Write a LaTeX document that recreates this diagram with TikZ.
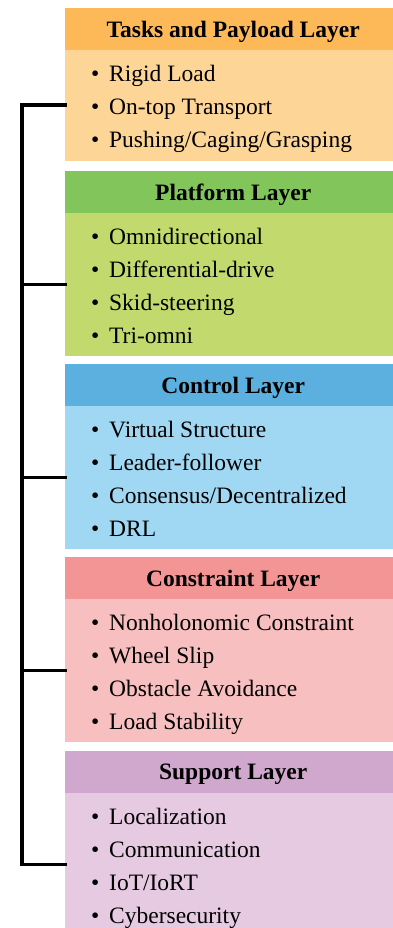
\documentclass[tikz,border=0pt]{standalone}
\usepackage{fontspec}
\setmainfont{Liberation Serif}
\definecolor{hA}{RGB}{253,185,88}
\definecolor{bA}{RGB}{253,213,151}
\definecolor{hB}{RGB}{130,197,91}
\definecolor{bB}{RGB}{194,217,110}
\definecolor{hC}{RGB}{91,176,224}
\definecolor{bC}{RGB}{160,216,243}
\definecolor{hD}{RGB}{244,149,149}
\definecolor{bD}{RGB}{248,191,192}
\definecolor{hE}{RGB}{208,168,206}
\definecolor{bE}{RGB}{230,202,226}
\tikzset{
  hdr/.style={rectangle, anchor=north west, inner sep=0pt, minimum width=336pt, minimum height=41.5pt, fill=#1},
  ttl/.style={inner sep=0pt, yshift=-2.5pt, font=\fontsize{23.5}{26}\selectfont\bfseries},
  bodybox/.style={rectangle, anchor=north west, inner sep=0pt, minimum width=336pt, fill=#1},
  itm/.style={anchor=base west, inner sep=0pt, font=\fontsize{23.5}{26}\selectfont},
  bracket/.style={line width=3.4pt, line join=miter, line cap=rect}
}
\newcommand{\itembul}{\makebox[18pt][l]{\textbullet}}
\begin{document}
\begin{tikzpicture}[x=1pt,y=-1pt]
\useasboundingbox (0,0) rectangle (393,928);
\clip (0,0) rectangle (393,928);
\coordinate (sp) at (22,0);
% boxes
\node[hdr=hA] (h1) at (65,8) {};
\node[bodybox=bA, minimum height=111pt] (b1) at (65,49.5) {};
\node[hdr=hB] (h2) at (65,171) {};
\node[bodybox=bB, minimum height=143pt] (b2) at (65,212.5) {};
\node[hdr=hC] (h3) at (65,364) {};
\node[bodybox=bC, minimum height=143pt] (b3) at (65,405.5) {};
\node[hdr=hD] (h4) at (65,557) {};
\node[bodybox=bD, minimum height=143pt] (b4) at (65,598.5) {};
\node[hdr=hE] (h5) at (65,751) {};
\node[bodybox=bE, minimum height=143pt] (b5) at (65,792.5) {};
% titles
\node[ttl] (t1) at (h1.center) {Tasks and Payload Layer};
\node[ttl] (t2) at (h2.center) {Platform Layer};
\node[ttl] (t3) at (h3.center) {Control Layer};
\node[ttl] (t4) at (h4.center) {Constraint Layer};
\node[ttl] (t5) at (h5.center) {Support Layer};
% items
\node[itm] (i11) at (91,81.5) {\itembul Rigid Load};
\node[itm] (i12) at (91,114.5) {\itembul On-top Transport};
\node[itm] (i13) at (91,147.5) {\itembul Pushing/Caging/Grasping};
\node[itm] (i21) at (91,244) {\itembul Omnidirectional};
\node[itm] (i22) at (91,277) {\itembul Differential-drive};
\node[itm] (i23) at (91,310) {\itembul Skid-steering};
\node[itm] (i24) at (91,343) {\itembul Tri-omni};
\node[itm] (i31) at (91,437) {\itembul Virtual Structure};
\node[itm] (i32) at (91,470) {\itembul Leader-follower};
\node[itm] (i33) at (91,503) {\itembul Consensus/Decentralized};
\node[itm] (i34) at (91,536) {\itembul DRL};
\node[itm] (i41) at (91,630) {\itembul Nonholonomic Constraint};
\node[itm] (i42) at (91,663) {\itembul Wheel Slip};
\node[itm] (i43) at (91,696) {\itembul Obstacle Avoidance};
\node[itm] (i44) at (91,729) {\itembul Load Stability};
\node[itm] (i51) at (91,824) {\itembul Localization};
\node[itm] (i52) at (91,857) {\itembul Communication};
\node[itm] (i53) at (91,890) {\itembul IoT/IoRT};
\node[itm] (i54) at (91,923) {\itembul Cybersecurity};
% bracket
\draw[bracket] (b1.west) -- (b1.west -| sp) -- (b5.west -| sp) -- (b5.west);
\draw[bracket] (b2.west) -- (b2.west -| sp);
\draw[bracket] (b3.west) -- (b3.west -| sp);
\draw[bracket] (b4.west) -- (b4.west -| sp);
\end{tikzpicture}
\end{document}
